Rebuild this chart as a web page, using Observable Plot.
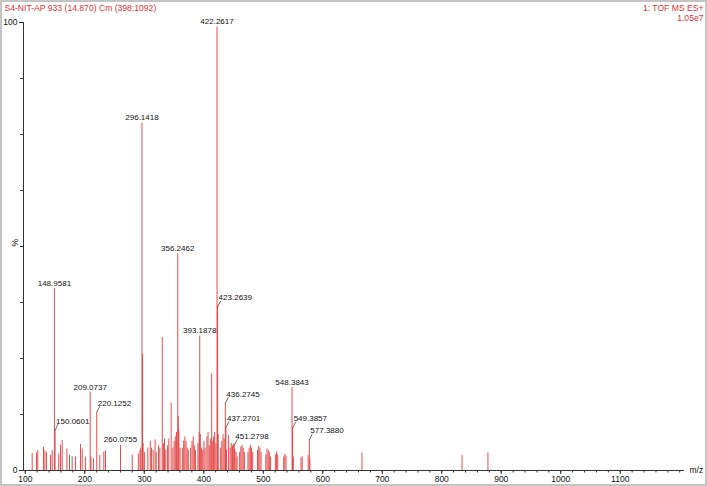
<!DOCTYPE html>
<html>
<head>
<meta charset="utf-8">
<script src="https://cdn.jsdelivr.net/npm/d3@7"></script>
<script src="https://cdn.jsdelivr.net/npm/@observablehq/plot@0.6"></script>
<style>
html, body { margin: 0; padding: 0; background: #fff; }
#wrap { position: relative; width: 707px; height: 486px; overflow: hidden; }
#border { position: absolute; left: 0; top: 0; width: 707px; height: 486px; box-sizing: border-box; border: 2px solid #c4c4c4; pointer-events: none; }
</style>
</head>
<body>
<div id="wrap"><div id="chart"></div><div id="border"></div></div>
<script>
// ---- text ----
const titleLeft = "S4-NIT-AP 933 (14.870) Cm (398:1092)";
const titleRight1 = "1: TOF MS ES+";
const titleRight2 = "1.05e7";
const xAxisLabel = "m/z";
const yAxisLabel = "%";

// ---- axis ticks ----
const xMajorTicks = [100, 200, 300, 400, 500, 600, 700, 800, 900, 1000, 1100];
const xMinorTicks = d3.range(100, 1201, 20);
const yMajorTicks = [0, 100];
const yMinorTicks = [12.5, 25, 37.5, 50, 62.5, 75, 87.5];

// ---- spectrum peaks (m/z, relative intensity %) ----
const peakMz = [
  111.6, 118.8, 121.0, 130.6, 133.0, 135.6, 142.4, 145.2, 148.9581, 150.0601,
  156.3, 159.2, 162.0, 170.0, 174.3, 178.8, 184.4, 192.8, 195.6, 201.0,
  209.0737, 210.4, 214.6, 220.1252, 225.2, 232.0, 234.8, 260.0755, 279.7, 290.0,
  292.8, 294.1, 296.1418, 297.15, 298.1, 300.2, 306.0, 310.1, 312.2, 315.0,
  318.2, 320.1, 324.0, 326.2, 330.2, 332.2, 334.0, 336.2, 339.2, 341.2,
  345.2, 348.0, 350.2, 352.2, 354.2, 356.2462, 357.25, 358.2, 360.2, 364.0,
  366.2, 368.2, 370.2, 372.2, 374.0, 378.0, 380.2, 382.2, 384.2, 386.0,
  390.2, 392.2, 393.1878, 394.19, 396.0, 398.2, 400.2, 402.2, 405.2, 407.2,
  409.2, 411.0, 413.27, 414.3, 416.3, 418.3, 420.3, 422.2617, 423.2639, 424.27,
  428.3, 430.3, 432.3, 434.3, 436.2745, 437.2701, 438.27, 441.7, 444.3, 446.3,
  448.3, 450.3, 451.2798, 452.3, 454.3, 456.0, 460.3, 462.3, 464.3, 466.3,
  468.3, 474.3, 476.3, 478.3, 480.3, 482.3, 490.3, 492.3, 494.3, 496.3,
  504.3, 506.3, 508.3, 510.3, 512.3, 520.3, 522.3, 524.3, 534.3, 536.3,
  538.3, 548.3843, 549.3857, 550.4, 563.4, 565.4, 575.4, 577.388, 578.4, 665.9,
  834.1, 877.6
];
const peakIntensity = [
  3.8, 3.9, 4.4, 5.2, 4.4, 4.0, 3.4, 4.4, 40.6, 9.0,
  3.7, 5.6, 6.7, 4.8, 3.4, 3.1, 3.0, 5.8, 4.8, 3.0,
  17.4, 3.0, 2.6, 13.0, 3.4, 4.1, 4.4, 5.6, 3.4, 3.7,
  4.4, 5.0, 77.5, 26.0, 6.0, 4.0, 5.0, 6.5, 5.0, 4.5,
  6.8, 4.0, 5.5, 5.0, 29.7, 6.0, 7.0, 4.5, 5.5, 7.0,
  15.0, 5.0, 6.5, 7.5, 8.5, 48.4, 12.0, 9.0, 5.0, 5.0,
  6.5, 7.5, 6.5, 5.0, 4.5, 5.0, 6.5, 7.5, 5.5, 4.5,
  6.0, 8.5, 30.0, 8.0, 5.0, 4.5, 6.5, 5.0, 7.5, 8.5,
  5.5, 7.0, 21.6, 6.5, 7.5, 8.5, 6.0, 99.0, 36.5, 8.0,
  5.0, 6.5, 8.0, 7.0, 15.0, 9.6, 4.5, 7.8, 5.0, 6.0,
  5.5, 6.0, 5.6, 4.5, 4.0, 3.0, 4.0, 5.2, 5.6, 5.0,
  4.0, 4.0, 5.0, 5.6, 5.0, 4.0, 4.5, 5.4, 5.0, 4.0,
  3.5, 4.8, 4.5, 4.0, 3.0, 3.5, 4.1, 3.5, 3.0, 3.6,
  3.2, 18.5, 9.5, 3.0, 2.8, 3.1, 3.3, 6.85, 2.5, 3.9,
  3.3, 3.9
];

// ---- annotated peaks ----
const plainLabelMz = [422.2617, 296.1418, 356.2462, 148.9581, 393.1878, 548.3843, 209.0737, 260.0755];
const leaderLabelMz = [423.2639, 220.1252, 150.0601, 436.2745, 437.2701, 451.2798, 549.3857, 577.388];

// ---- layout / style ----
const W = 707, H = 486;
const margin = {top: 22, right: 23, bottom: 16, left: 23};
const xDomain = [97, 1208];
const leaderOffset = {dx: 3, dy: -6};
const peakColor = "#e23b3b";
const titleColor = "#d93434";
const font = "'Liberation Sans', Arial, Helvetica, sans-serif";

const peaks = peakMz.map((mz, i) => ({mz, intensity: peakIntensity[i]}));
const intensityOf = mz => peakIntensity[peakMz.indexOf(mz)];
const fmt = d3.format(".4f");

const xs = Plot.scale({x: {domain: xDomain, range: [margin.left, W - margin.right]}});
const ys = Plot.scale({y: {domain: [0, 100], range: [H - margin.bottom, margin.top]}});

const plainLabels = plainLabelMz.map(mz => ({mz, intensity: intensityOf(mz), text: fmt(mz)}));
const leaderLabels = leaderLabelMz.map(mz => {
  const I = intensityOf(mz);
  return {
    mz, intensity: I, text: fmt(mz),
    mz2: xs.invert(xs.apply(mz) + leaderOffset.dx),
    i2: ys.invert(ys.apply(I) + leaderOffset.dy)
  };
});

const chart = Plot.plot({
  width: W,
  height: H,
  marginTop: margin.top,
  marginRight: margin.right,
  marginBottom: margin.bottom,
  marginLeft: margin.left,
  style: {fontFamily: font, fontSize: "8.5px", background: "#fff", overflow: "visible"},
  x: {domain: xDomain, label: null},
  y: {domain: [0, 100], label: null},
  marks: [
    // peaks
    Plot.ruleX(peaks, {x: "mz", y1: 0, y2: "intensity", stroke: peakColor, strokeWidth: 1, strokeOpacity: 0.9}),
    // axes
    Plot.ruleY([0], {stroke: "#333", strokeWidth: 1}),
    Plot.ruleX([xDomain[0]], {stroke: "#333", strokeWidth: 1}),
    Plot.axisX({ticks: xMinorTicks, tickSize: 2.5, tickFormat: () => "", label: null, stroke: "#333"}),
    Plot.axisX({ticks: xMajorTicks, tickSize: 4, tickPadding: 1.5, tickFormat: d => String(d), label: null, stroke: "#333", fill: "#111", fontSize: 8.5}),
    Plot.axisY({ticks: yMinorTicks, tickSize: 3, tickFormat: () => "", label: null, stroke: "#333"}),
    Plot.axisY({ticks: yMajorTicks, tickSize: 4, tickPadding: 2, tickFormat: d => String(d), label: null, stroke: "#333", fill: "#111", fontSize: 8.5}),
    // axis titles
    Plot.text([xAxisLabel], {frameAnchor: "bottom-right", dx: 5, textAnchor: "start", lineAnchor: "middle", fontSize: 8.5, fill: "#111"}),
    Plot.text([yAxisLabel], {frameAnchor: "left", dx: -8, rotate: -90, fontSize: 8.5, fill: "#111"}),
    // header texts
    Plot.text([titleLeft], {frameAnchor: "top-left", dx: -19, dy: -12, textAnchor: "start", lineAnchor: "bottom", fill: titleColor, fontSize: 8.6}),
    Plot.text([titleRight1], {frameAnchor: "top-right", dx: 19, dy: -12, textAnchor: "end", lineAnchor: "bottom", fill: titleColor, fontSize: 8.6}),
    Plot.text([titleRight2], {frameAnchor: "top-right", dx: 19, dy: -1.5, textAnchor: "end", lineAnchor: "bottom", fill: titleColor, fontSize: 8.6}),
    // peak labels
    Plot.text(plainLabels, {x: "mz", y: "intensity", text: "text", dy: -3, lineAnchor: "bottom", fontSize: 8, fill: "#111"}),
    Plot.link(leaderLabels, {x1: "mz", y1: "intensity", x2: "mz2", y2: "i2", stroke: "#444", strokeWidth: 0.8}),
    Plot.text(leaderLabels, {x: "mz2", y: "i2", text: "text", dx: -2, dy: -0.5, textAnchor: "start", lineAnchor: "bottom", fontSize: 8, fill: "#111"})
  ]
});
document.getElementById("chart").appendChild(chart);
</script>
</body>
</html>
